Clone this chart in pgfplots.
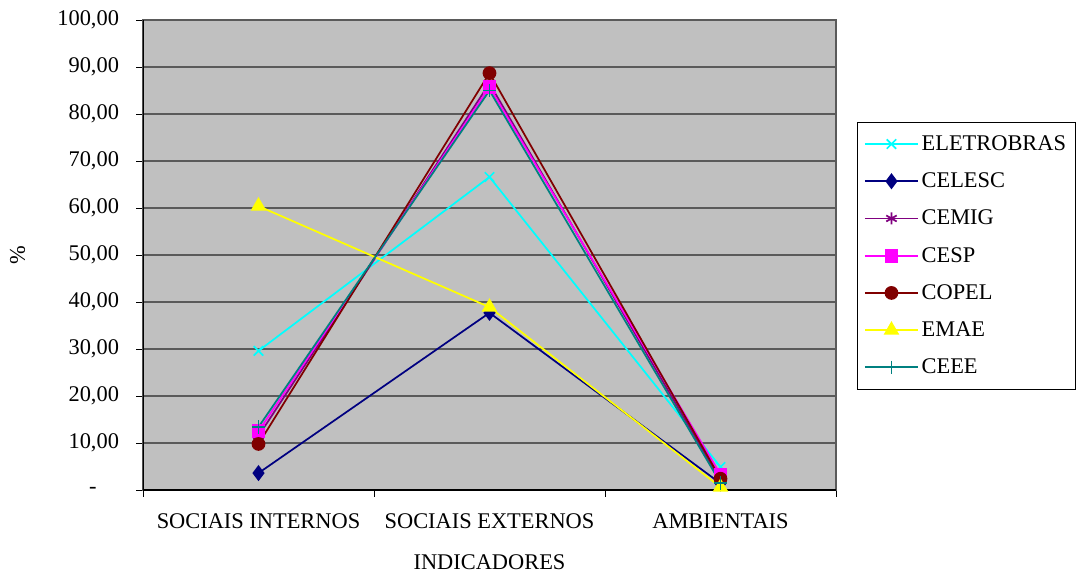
\documentclass[border=0pt]{standalone}
\usepackage{pgfplots}
\pgfplotsset{compat=1.18}
\usepackage{fontspec}
\setmainfont{Liberation Serif}
\usetikzlibrary{plotmarks}
\definecolor{bg}{RGB}{192,192,192}
\definecolor{gridc}{RGB}{90,90,90}
\definecolor{eletro}{RGB}{0,255,255}
\definecolor{celesc}{RGB}{0,0,128}
\definecolor{cemig}{RGB}{128,0,128}
\definecolor{cesp}{RGB}{255,0,255}
\definecolor{copel}{RGB}{128,0,0}
\definecolor{ceee}{RGB}{0,128,128}
\definecolor{emae}{RGB}{255,255,0}
\newcommand{\ff}{\fontsize{16.8}{19}\selectfont}
\begin{document}
\begin{tikzpicture}[x=1pt,y=1pt]
\path[use as bounding box] (0,0) rectangle (808.5,432);
\begin{axis}[
  at={(107.25pt,64.5pt)}, anchor=south west,
  scale only axis, width=519.75pt, height=352.5pt,
  xmin=-0.5, xmax=2.5, ymin=0, ymax=100,
  axis background/.style={fill=bg},
  axis line style={gridc, line width=0.8pt},
  xtick={0,1,2},
  xticklabels={SOCIAIS INTERNOS, SOCIAIS EXTERNOS, AMBIENTAIS},
  major x tick style={draw=none},
  minor xtick={-0.5,0.5,1.5,2.5},
  minor x tick style={black, line width=0.6pt},
  minor tick length=5pt,
  ytick={0,10,...,100},
  yticklabels={-\hphantom{00},{10,00},{20,00},{30,00},{40,00},{50,00},{60,00},{70,00},{80,00},{90,00},{100,00}},
  major y tick style={black, line width=0.6pt},
  major tick length=5pt,
  tick align=outside, tick pos=left,
  ymajorgrids, grid style={gridc, line width=0.9pt},
  every tick label/.append style={font=\ff},
  xticklabel style={yshift=-9pt},
  yticklabel style={xshift=-9.5pt},
  xlabel={INDICADORES}, ylabel={\%},
  label style={font=\ff},
  xlabel style={at={(axis description cs:0.5,0)}, anchor=center, yshift=-54pt},
  ylabel style={at={(axis description cs:-0.181,0.5)}, anchor=center},
  legend style={at={(rel axis cs:1.0303,0.783)}, anchor=north west, draw=black, fill=white,
    font=\ff, row sep=11.3pt, inner xsep=5pt, inner ysep=8pt, legend cell align=left},
  legend image code/.code={\draw[line width=1.3pt, mark repeat=2,mark phase=2] plot coordinates {(0pt,0pt)(20pt,0pt)(40pt,0pt)};},
  every axis plot/.append style={line width=1.3pt, mark options={solid}},
]
\addplot[eletro, mark=x, mark size=5pt] coordinates {(0,29.6) (1,66.6) (2,4.9)};
\addlegendentry{ELETROBRAS}
\addplot[celesc, mark=diamond*, mark size=5pt] coordinates {(0,3.6) (1,37.7) (2,1.4)};
\addlegendentry{CELESC}
\addplot[cemig, mark=asterisk, mark size=4.5pt] coordinates {(0,11.5) (1,86.5) (2,2.0)};
\addlegendentry{CEMIG}
\addplot[cesp, mark=square*, mark size=4.5pt] coordinates {(0,12.5) (1,85.7) (2,3.3)};
\addlegendentry{CESP}
\addplot[copel, mark=*, mark size=4.5pt] coordinates {(0,9.8) (1,88.7) (2,2.4)};
\addlegendentry{COPEL}
\addplot[emae, mark=triangle*, mark size=5.5pt] coordinates {(0,60.4) (1,38.9) (2,0.6)};
\addlegendentry{EMAE}
\addplot[ceee, mark=+, mark size=5pt] coordinates {(0,13.4) (1,85.0) (2,1.5)};
\addlegendentry{CEEE}
\draw[black, line width=0.8pt] (rel axis cs:0,0) -- (rel axis cs:0,1);
\draw[black, line width=0.8pt] (rel axis cs:0,0) -- (rel axis cs:1,0);
\end{axis}
\end{tikzpicture}
\end{document}
